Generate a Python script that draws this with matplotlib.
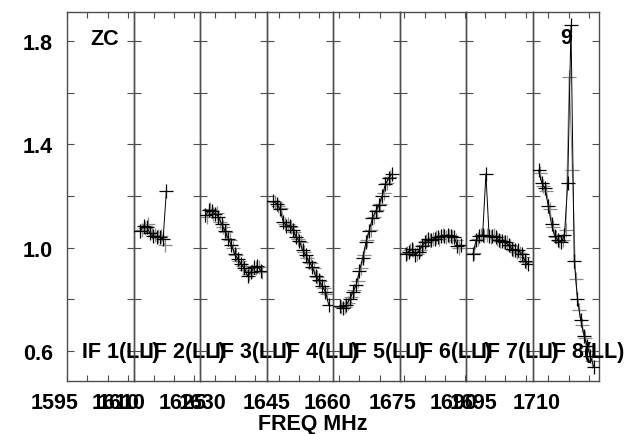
import numpy as np
import matplotlib
matplotlib.use("Agg")
import matplotlib.pyplot as plt
import matplotlib.transforms as mtransforms

plt.rcParams['font.family'] = ['Liberation Sans', 'DejaVu Sans']
plt.rcParams['font.weight'] = 'bold'

# left edge frequency of each IF panel (MHz), panel width, channel width
if_edges = [1595.0, 1610.0, 1626.4, 1642.0, 1658.5, 1673.8, 1690.3, 1706.1]
if_span = 16.38
chan_width = 0.8
# frequency of first plotted channel in each IF (IF 1 has no data)
first_chan = [1596.0, 1611.7, 1627.75, 1643.7, 1660.2, 1675.28, 1692.0, 1707.58]
gray_shift = 0.35

# LL amplitudes, black series
if1_ll = []
if2_ll = [1.065, 1.085, 1.08, 1.055, 1.045, 1.04, 1.04, 1.035, 1.22]
if3_ll = [1.125, 1.145, 1.14, 1.13, 1.12, 1.09, 1.065, 1.035, 1.01, 0.975,
          0.955, 0.935, 0.92, 0.89, 0.905, 0.925, 0.93, 0.91]
if4_ll = [1.18, 1.17, 1.15, 1.10, 1.085, 1.085, 1.07, 1.04, 1.025, 0.99,
          0.97, 0.945, 0.925, 0.89, 0.875, 0.85, 0.83, 0.78]
if5_ll = [0.775, 0.765, 0.78, 0.80, 0.83, 0.855, 0.91, 0.96, 1.02, 1.065,
          1.115, 1.14, 1.165, 1.20, 1.245, 1.27, 1.285]
if6_ll = [0.975, 0.985, 0.995, 0.97, 0.985, 1.005, 1.02, 1.035, 1.03, 1.035,
          1.04, 1.045, 1.045, 1.05, 1.045, 1.04, 1.005, 1.01]
if7_ll = [0.975, 1.03, 1.045, 1.05, 1.285, 1.045, 1.045, 1.04, 1.03, 1.025,
          1.02, 1.01, 0.995, 0.99, 0.99, 0.975, 0.95, 0.935]
if8_ll = [1.30, 1.25, 1.23, 1.16, 1.09, 1.045, 1.03, 1.02, 1.05, 1.25,
          1.86, 0.95, 0.80, 0.72, 0.66, 0.62, 0.58, 0.54]

# second (gray) series
if1_g = []
if2_g = [1.07, 1.075, 1.09, 1.06, 1.05, 1.045, 1.045, 1.01]
if3_g = [1.12, 1.15, 1.13, 1.135, 1.10, 1.08, 1.06, 1.03, 1.0, 0.97,
         0.95, 0.93, 0.915, 0.90, 0.91, 0.92, 0.925, 0.905]
if4_g = [1.175, 1.16, 1.155, 1.09, 1.09, 1.08, 1.06, 1.035, 1.02, 0.985,
         0.96, 0.94, 0.92, 0.885, 0.87, 0.845, 0.82]
if5_g = [0.77, 0.77, 0.785, 0.81, 0.835, 0.87, 0.92, 0.97, 1.03, 1.07,
         1.12, 1.145, 1.17, 1.21, 1.25, 1.275]
if6_g = [0.98, 0.99, 0.99, 0.975, 0.99, 1.01, 1.025, 1.03, 1.035, 1.04,
         1.035, 1.05, 1.04, 1.045, 1.04, 1.03, 1.0]
if7_g = [0.98, 1.035, 1.05, 1.045, 1.05, 1.04, 1.05, 1.035, 1.025, 1.02,
         1.02, 1.005, 0.99, 0.985, 0.98, 0.965, 0.945]
if8_g = [1.29, 1.24, 1.22, 1.15, 1.08, 1.04, 1.025, 1.03, 1.07, 1.66,
         1.30, 0.88, 0.76, 0.70, 0.65, 0.60, 0.56]

black_sets = [if1_ll, if2_ll, if3_ll, if4_ll, if5_ll, if6_ll, if7_ll, if8_ll]
gray_sets = [if1_g, if2_g, if3_g, if4_g, if5_g, if6_g, if7_g, if8_g]
if_names = ['IF 1(LL)', 'IF 2(LL)', 'IF 3(LL)', 'IF 4(LL)',
            'IF 5(LL)', 'IF 6(LL)', 'IF 7(LL)', 'IF 8(LL)']

y_ticks = [0.6, 0.8, 1.0, 1.2, 1.4, 1.6, 1.8]
y_labels = ['0.6', '', '1.0', '', '1.4', '', '1.8']

fig = plt.figure(figsize=(6.34, 4.35), dpi=100)
left, right, bottom, top = 67 / 634, 599 / 634, 1 - 382 / 435, 1 - 13 / 435
w = (right - left) / 8
fs = 15.5
frame = '0.3'

for k in range(8):
    ax = fig.add_axes([left + k * w, bottom, w, top - bottom])
    ax.set_facecolor('none')
    f0 = if_edges[k]
    ax.set_xlim(f0, f0 + if_span)
    ax.set_ylim(0.484, 1.912)

    vals = black_sets[k]
    if len(vals):
        fr = first_chan[k] + chan_width * np.arange(len(vals))
        gv = gray_sets[k]
        fg = first_chan[k] + gray_shift + chan_width * np.arange(len(gv))
        ax.plot(fg, gv, color='0.55', lw=0.7, marker='+', ms=10, mew=0.9, zorder=2)
        ax.plot(fr, vals, color='black', lw=0.7, marker='+', ms=10, mew=0.9, zorder=3)

    for s in ax.spines.values():
        s.set_color(frame)
        s.set_linewidth(1.0)

    # x ticks every 5 MHz, labels every 15 starting from first tick
    t0 = np.ceil((f0 - 1e-6) / 5) * 5
    xt = np.arange(t0, f0 + if_span + 1e-6, 5)
    ax.set_xticks(xt)
    ax.set_xticklabels([])
    ax.tick_params(axis='x', direction='in', top=True, bottom=True,
                   length=4.5, width=0.8, color=frame)
    ax.set_yticks(y_ticks)
    ax.tick_params(axis='y', direction='in', left=True, right=True,
                   length=4.8, width=0.8, color=frame)
    if k == 0:
        ax.set_yticklabels(y_labels, fontsize=fs, fontweight='bold')
        ax.tick_params(axis='y', pad=10)
    else:
        ax.set_yticklabels([])

    off = mtransforms.ScaledTranslation(-0.12, -0.11, fig.dpi_scale_trans)
    tr = mtransforms.blended_transform_factory(ax.transData, ax.transAxes) + off
    for f in np.arange(t0, f0 + if_span + 1e-6, 15):
        ax.text(f, 0, '%d' % f, transform=tr, ha='center', va='top',
                fontsize=fs, fontweight='bold', clip_on=False)

    trl = mtransforms.blended_transform_factory(ax.transAxes, ax.transData)
    ax.text(0.225, 0.6, if_names[k], transform=trl, ha='left', va='center',
            fontsize=fs, fontweight='bold', clip_on=False, zorder=5)

    if k == 0:
        ax.text(0.345, 1.81, 'ZC', transform=trl, ha='left', va='center',
                fontsize=fs, fontweight='bold')
    if k == 7:
        ax.text(0.42, 1.815, '9', transform=trl, ha='left', va='center',
                fontsize=fs, fontweight='bold')

fig.text(313 / 634, 1 - 425 / 435, 'FREQ MHz', ha='center', va='center',
         fontsize=fs, fontweight='bold')

fig.savefig('out.png', dpi=100)
